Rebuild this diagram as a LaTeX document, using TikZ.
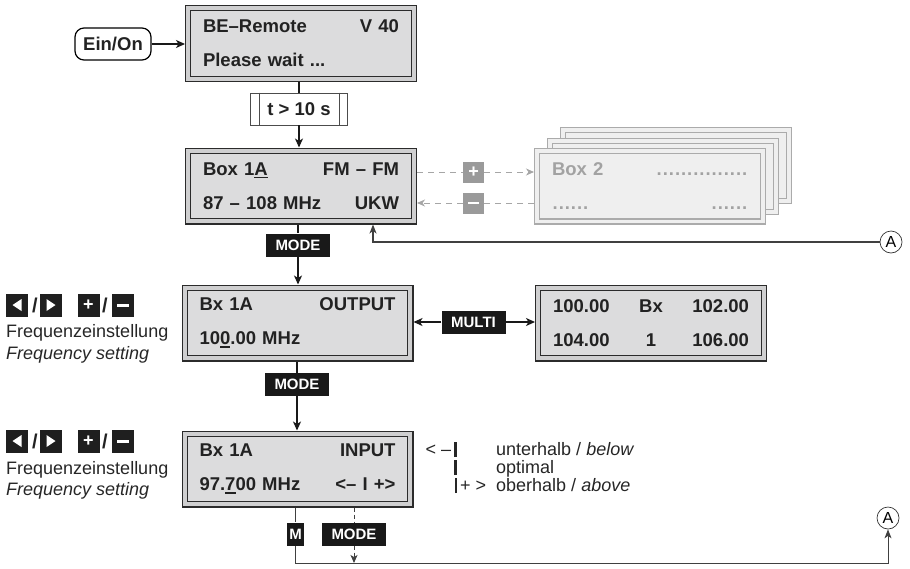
\documentclass[tikz,border=0pt]{standalone}
\usepackage{fontspec}
\setmainfont{Liberation Sans}
\usetikzlibrary{arrows.meta}
\definecolor{lcdgrey}{HTML}{DCDCDD}
\definecolor{lcdband}{HTML}{CFCFD0}
\definecolor{lcdline}{HTML}{2B2B2B}
\definecolor{lcdtext}{HTML}{222222}
\definecolor{ghostfill}{HTML}{EFEFEF}
\definecolor{ghostline}{HTML}{ABABAB}
\definecolor{ghosttext}{HTML}{A2A2A2}
\definecolor{dashgrey}{HTML}{A6A6A6}
\definecolor{keygrey}{HTML}{9A9A9A}
\newcommand\lcdul[1]{\setbox0\hbox{#1}\rlap{\rule[-3.2pt]{\wd0}{1.8pt}}#1}
\newcommand\lcddots[1]{\leavevmode\hbox to #1{\cleaders\hbox to 6.1pt{\hss.\hss}\hfil}}
\newcommand\legbar{\rule[-2pt]{2.6pt}{15pt}}

\begin{document}
\begin{tikzpicture}[x=1pt, y=-1pt,
  lcd/.style={rectangle, fill=lcdband, draw=lcdline, line width=1.4pt, inner sep=0pt, minimum width=230.6pt, minimum height=75.6pt, text width=196pt, align=left, text=lcdtext, font=\fontsize{18.5}{34}\selectfont\bfseries,
    path picture={\draw[draw=lcdline, fill=lcdgrey, line width=1.3pt] ([shift={(5pt,-5pt)}]path picture bounding box.north west) rectangle ([shift={(-5pt,5pt)}]path picture bounding box.south east);}},
  ghost/.style={rectangle, fill=ghostfill, draw=ghostline, line width=1.1pt, inner sep=0pt, minimum width=230.9pt, minimum height=75.9pt, text width=196pt, align=left, text=ghosttext, font=\fontsize{18.5}{34}\selectfont\bfseries,
    path picture={\draw[draw=ghostline, line width=1.1pt] ([shift={(5pt,-5pt)}]path picture bounding box.north west) rectangle ([shift={(-5pt,5pt)}]path picture bounding box.south east);}},
  onbtn/.style={rectangle, rounded corners=9pt, draw=black, line width=1.2pt, minimum width=76pt, minimum height=32pt, inner sep=0pt, font=\fontsize{18.5}{20}\selectfont\bfseries, text=lcdtext},
  tbox/.style={rectangle, draw=black!70, line width=0.8pt, minimum width=97pt, minimum height=32pt, inner sep=0pt, font=\fontsize{18.5}{20}\selectfont\bfseries, text=lcdtext},
  tline/.style={draw=black!70, line width=0.8pt},
  keylbl/.style={rectangle, fill=black!90, text=white, minimum width=64pt, minimum height=23pt, inner sep=0pt, font=\fontsize{15}{15}\selectfont\bfseries},
  keybox/.style={rectangle, fill=black!88, text=white, minimum width=22pt, minimum height=23pt, inner sep=0pt, font=\fontsize{18}{18}\selectfont\bfseries},
  keyleft/.style={keybox, path picture={\fill[white] ([xshift=-4.5pt]path picture bounding box.center) -- ++(9pt,6pt) -- ++(0pt,-12pt) -- cycle;}},
  keyright/.style={keybox, path picture={\fill[white] ([xshift=4.5pt]path picture bounding box.center) -- ++(-9pt,6pt) -- ++(0pt,-12pt) -- cycle;}},
  keygrey/.style={keybox, fill=keygrey, minimum width=21pt, minimum height=21pt},
  slash/.style={inner sep=0pt, font=\fontsize{20}{20}\selectfont\bfseries, text=lcdtext},
  note/.style={inner sep=0pt, font=\fontsize{18}{20}\selectfont, text=black!85},
  alink/.style={circle, draw=black!80, line width=0.7pt, minimum size=22pt, inner sep=0pt, fill=white, font=\fontsize{16}{16}\selectfont},
  conn/.style={line width=1.4pt, draw=black!90},
  arr/.style={conn, -{Stealth[length=9pt, width=8pt, inset=2.5pt]}},
  retarr/.style={line width=1.1pt, draw=black!75, -{Stealth[length=9pt, width=7pt, inset=2.5pt]}},
  loopln/.style={line width=1pt, draw=black!75},
  looparr/.style={loopln, -{Stealth[length=9pt, width=7pt, inset=2.5pt]}},
  dashdn/.style={line width=1pt, draw=black!75, dash pattern=on 4pt off 3pt},
  dashln/.style={line width=1pt, draw=dashgrey, dash pattern=on 6pt off 5pt},
  dasharr/.style={dashln, -{Stealth[length=8pt, width=7pt, inset=2.5pt]}}]
\useasboundingbox (0,0) rectangle (910,568);

\node[onbtn] (on) at (113,44) {Ein/On};
\node[lcd] (boot) at (301,43.5) {BE–Remote\hfill V 40\\Please wait ...};
\node[tbox] (tdelay) at (299,109) {t > 10 s};
\node[lcd] (box1) at (301,186) {Box 1\lcdul{A}\hfill FM – FM\\87 – 108 MHz\hfill UKW};
\node[ghost] (ghostc) at (676,165.5) {};
\node[ghost] (ghostb) at (663,176.5) {};
\node[ghost] (ghosta) at (650,186) {Box 2\hfill\lcddots{92pt}\\\lcddots{37pt}\hfill\lcddots{37pt}};
\node[keygrey] (plus) at (473.5,172) {+};
\node[keygrey] (minus) at (473.5,203) {\rule{11pt}{2.6pt}};
\node[alink] (atop) at (891,242) {A};
\node[keylbl] (mode1) at (298,245) {MODE};
\node[lcd] (out) at (297.5,323) {Bx 1A\hfill OUTPUT\\10\lcdul{0}.00 MHz};
\node[keylbl] (multi) at (473.5,322) {MULTI};
\node[lcd] (multibox) at (651,323) {100.00\hfill Bx\hfill 102.00\\104.00\hfill 1\hfill 106.00};
\node[keylbl] (mode2) at (297,384.5) {MODE};
\node[lcd] (inp) at (297.5,469) {Bx 1A\hfill INPUT\\97.\lcdul{7}00 MHz\hfill <– I +>};
\node[keylbl, minimum width=17pt] (mkey) at (295.5,534) {M};
\node[keylbl] (mode3) at (354,534) {MODE};
\node[alink] (abot) at (888,518) {A};
\coordinate (loopend) at (888,563);

\node[keyleft] (kleft1) at (17,305) {};
\node[slash] (slash1) at (35,305) {/};
\node[keyright] (kright1) at (51,305) {};
\node[keybox] (kplus1) at (88.5,305) {+};
\node[slash] (slash2) at (105,305) {/};
\node[keybox] (kminus1) at (123,305) {\rule{12pt}{3pt}};
\node[note, anchor = west] (freqde1) at (6,333) {Frequenzeinstellung};
\node[note, anchor = west] (freqen1) at (6,355) {\itshape Frequency setting};

\node[keyleft] (kleft2) at (17,441) {};
\node[slash] (slash3) at (35,441) {/};
\node[keyright] (kright2) at (51,441) {};
\node[keybox] (kplus2) at (88.5,441) {+};
\node[slash] (slash4) at (105,441) {/};
\node[keybox] (kminus2) at (123,441) {\rule{12pt}{3pt}};
\node[note, anchor = west] (freqde2) at (6,470) {Frequenzeinstellung};
\node[note, anchor = west] (freqen2) at (6,491) {\itshape Frequency setting};

\node[note, anchor = base east] (legbelow) at (457,455) {< –\,\legbar};
\node[note, anchor = base east] (legopt) at (457,473) {\legbar};
\node[note, anchor = base west] (legabove) at (454.4,491) {\legbar\,+ >};
\node[note, anchor = base west] (txtbelow) at (496,455) {unterhalb / \textit{below}};
\node[note, anchor = base west] (txtopt) at (496,473) {optimal};
\node[note, anchor = base west] (txtabove) at (496,491) {oberhalb / \textit{above}};

\draw[arr] (on) -- (boot.west |- on);
\draw[conn] (boot.south -| tdelay) -- (tdelay);
\draw[tline] ([xshift=9pt]tdelay.north west) -- ([xshift=9pt]tdelay.south west);
\draw[tline] ([xshift=-9pt]tdelay.north east) -- ([xshift=-9pt]tdelay.south east);
\draw[arr] (tdelay) -- (tdelay |- box1.north);

\draw[dashln] (box1.east |- plus) -- (plus);
\draw[dasharr] (plus) -- (ghosta.west |- plus);
\draw[dashln] (ghosta.west |- minus) -- (minus);
\draw[dasharr] (minus) -- (box1.east |- minus);
\draw[retarr] (atop) -| ([xshift=72pt]box1.south);

\draw[conn] (box1.south -| mode1) -- (mode1);
\draw[arr] (mode1) -- (mode1 |- out.north);
\draw[arr] (multi) -- (out.east |- multi);
\draw[arr] (multi) -- (multibox.west |- multi);
\draw[conn] (out.south -| mode2) -- (mode2);
\draw[arr] (mode2) -- (mode2 |- inp.north);

\draw[loopln] (inp.south -| mkey) -- (mkey);
\draw[looparr] (mkey) |- (loopend) -- (abot);
\draw[dashdn] (inp.south -| mode3) -- (mode3);
\draw[dashdn, -{Stealth[length=8pt, width=7pt, inset=2pt]}] (mode3) -- (mode3 |- loopend);
\end{tikzpicture}
\end{document}
